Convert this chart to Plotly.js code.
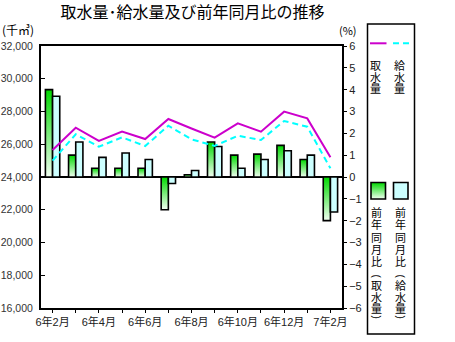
<!DOCTYPE html>
<html>
<head>
<meta charset="utf-8">
<script src="https://cdn.plot.ly/plotly-3.0.1.min.js"></script>
<style>
html,body{margin:0;padding:0;background:#fff;}
#chart{width:455px;height:342px;}
</style>
</head>
<body>
<div id="chart"></div>
<script>
// ---- data ----
const months = ['6年2月','6年3月','6年4月','6年5月','6年6月','6年7月','6年8月','6年9月','6年10月','6年11月','6年12月','7年1月','7年2月'];
const tickLabels = ['6年2月','','6年4月','','6年6月','','6年8月','','6年10月','','6年12月','','7年2月'];
const intake = [25650, 27010, 26200, 26770, 26320, 27540, 26960, 26400, 27280, 26770, 27990, 27580, 25200];
const supply = [25000, 26610, 25850, 26420, 25890, 27130, 26300, 25900, 26520, 26260, 27420, 27070, 24530];
const intakeYoY = [4.0, 1.0, 0.4, 0.4, 0.4, -1.5, 0.1, 1.6, 1.0, 1.05, 1.45, 0.8, -2.0];
const supplyYoY = [3.7, 1.6, 0.9, 1.1, 0.8, -0.3, 0.3, 1.4, 0.4, 0.8, 1.2, 1.0, -1.6];
const leftTicks = [16000, 18000, 20000, 22000, 24000, 26000, 28000, 30000, 32000];
const rightTicks = [-6,-5,-4,-3,-2,-1,0,1,2,3,4,5,6];
const legendNames = ['取水量', '給水量', '前年同月比（取水量）', '前年同月比（給水量）'];

const GREEN_KEY = 'rgb(0, 216, 0)';
const CYAN = '#ccffff';
const MAGENTA = '#cc00cc';
const LINECYAN = '#00ffff';
const FONT = 'Liberation Sans, "Noto Sans CJK JP", sans-serif';
const CJK = '"Noto Sans CJK JP", sans-serif';

// plot area pixel frame (for legend placement)
const L = 41, R = 342, T = 46, B = 308;
const px = x => (x - L) / (R - L);
const py = y => (B - y) / (B - T);

const traces = [
  {type:'bar', x: months, y: intakeYoY, yaxis:'y', name:legendNames[2],
   marker:{color: GREEN_KEY, line:{color:'#000', width:1.6}}, hoverinfo:'skip'},
  {type:'bar', x: months, y: supplyYoY, yaxis:'y', name:legendNames[3],
   marker:{color: CYAN, line:{color:'#000', width:1.6}}, hoverinfo:'skip'},
  {type:'scatter', mode:'lines', x: months, y: intake, yaxis:'y2', name:legendNames[0],
   line:{color: MAGENTA, width:2}, hoverinfo:'skip'},
  {type:'scatter', mode:'lines', x: months, y: supply, yaxis:'y2', name:legendNames[1],
   line:{color: LINECYAN, width:2, dash:'6px,4px'}, hoverinfo:'skip'}
];

const shapes = [
  {type:'rect', xref:'paper', yref:'paper', x0:px(367.5), x1:px(414.5), y0:py(334), y1:py(24),
   line:{color:'#000', width:1.5}, fillcolor:'rgba(0,0,0,0)'},
  {type:'line', xref:'paper', yref:'paper', x0:px(370), x1:px(386.5), y0:py(43.3), y1:py(43.3),
   line:{color:MAGENTA, width:2}},
  {type:'line', xref:'paper', yref:'paper', x0:px(393), x1:px(409.5), y0:py(43.3), y1:py(43.3),
   line:{color:LINECYAN, width:2, dash:'6px,4px'}},
  {type:'rect', xref:'paper', yref:'paper', x0:px(371), x1:px(385.5), y0:py(199), y1:py(182.5),
   line:{color:'#000', width:1.6}, fillcolor:GREEN_KEY},
  {type:'rect', xref:'paper', yref:'paper', x0:px(393.5), x1:px(408), y0:py(199), y1:py(182.5),
   line:{color:'#000', width:1.6}, fillcolor:CYAN}
];

const annotations = [
  {text:'(千㎥)', xref:'paper', yref:'paper', x:px(0), y:py(30), xanchor:'left', yanchor:'middle',
   showarrow:false, font:{family:CJK, size:12, color:'#000'}},
  {text:'(%)', xref:'paper', yref:'paper', x:px(348), y:py(30), xanchor:'center', yanchor:'middle',
   showarrow:false, font:{family:CJK, size:11, color:'#000'}}
];
// vertical legend texts: multi-line annotations; line offsets (px) tightened after render
const vcols = [];
function vseg(str, xc, firstC, offs){
  vcols.push({str, offs});
  annotations.push({text:Array.from(str).join('<br>'), xref:'paper', yref:'paper',
    x:px(xc), y:py(firstC - 9), xanchor:'center', yanchor:'top', align:'center',
    showarrow:false, font:{family:CJK, size:11, color:'#000'}});
}
function vparen(ch, xc, yc){
  annotations.push({text:ch, xref:'paper', yref:'paper', x:px(xc), y:py(yc),
    xanchor:'center', yanchor:'middle', textangle:90, showarrow:false,
    font:{family:FONT, size:10, color:'#000'}});
}
[[legendNames[0], 375.5], [legendNames[1], 399.5]].forEach(([s, xc]) => vseg(s, xc, 63.5, [0, 11.5, 23]));
[[legendNames[2], 376], [legendNames[3], 400]].forEach(([s, xc]) => {
  const head = s.slice(0, 5), body = s.slice(6, 9);
  vseg(head, xc, 211, [0, 12.3, 24.6, 36.9, 49.2]);
  vparen('(', xc, 276.5);
  vseg(body, xc, 284, [0, 12, 23.5]);
  vparen(')', xc, 316.5);
});

const layout = {
  width:455, height:342,
  margin:{l:L, r:455-R, t:T, b:342-B, pad:0},
  paper_bgcolor:'#fff', plot_bgcolor:'#fff',
  showlegend:false,
  barmode:'group', bargap:0.38, bargroupgap:0,
  title:{text:'取水量･給水量及び前年同月比の推移', font:{family:CJK, size:16, color:'#000'},
    xref:'container', yref:'container', x:192.5/455, xanchor:'center', y:1-12/342, yanchor:'middle'},
  xaxis:{type:'category', categoryorder:'array', categoryarray:months,
    range:[-0.5, 12.5], tickmode:'array', tickvals:months, ticktext:tickLabels,
    ticks:'outside', ticklen:3, tickwidth:1, tickcolor:'#000',
    showline:true, linecolor:'#000', linewidth:2, mirror:true,
    showgrid:false, zeroline:false, tickangle:0,
    tickfont:{family:FONT, size:11, color:'#222'}, fixedrange:true},
  yaxis:{side:'right', range:[-6,6], tickmode:'array', tickvals:rightTicks,
    ticks:'outside', ticklen:3, tickwidth:1, tickcolor:'#000',
    showline:true, linecolor:'#000', linewidth:2, showgrid:false,
    zeroline:true, zerolinecolor:'#000', zerolinewidth:2,
    tickfont:{family:FONT, size:11, color:'#222'}, fixedrange:true},
  yaxis2:{overlaying:'y', side:'left', range:[16000,32000], tickmode:'array', tickvals:leftTicks,
    tickformat:',d', ticks:'inside', ticklen:4, tickwidth:1, tickcolor:'#000',
    showline:true, linecolor:'#000', linewidth:2, showgrid:false, zeroline:false,
    ticklabelstandoff:4,
    tickfont:{family:FONT, size:10.5, color:'#333'}, fixedrange:true},
  shapes: shapes,
  annotations: annotations
};

Plotly.newPlot('chart', traces, layout, {displayModeBar:false, staticPlot:true}).then(gd => {
  const svg = gd.querySelector('svg.main-svg');
  const NS = 'http://www.w3.org/2000/svg';
  const defs = document.createElementNS(NS, 'defs');
  const grad = document.createElementNS(NS, 'linearGradient');
  grad.setAttribute('id', 'greenGrad');
  grad.setAttribute('x1', '0'); grad.setAttribute('y1', '0');
  grad.setAttribute('x2', '0'); grad.setAttribute('y2', '1');
  [['0%', '#00d800'], ['100%', '#f2fff2']].forEach(([o, c]) => {
    const s = document.createElementNS(NS, 'stop');
    s.setAttribute('offset', o); s.setAttribute('stop-color', c);
    grad.appendChild(s);
  });
  defs.appendChild(grad);
  svg.insertBefore(defs, svg.firstChild);
  gd.querySelectorAll('path').forEach(p => {
    if (p.style.fill === GREEN_KEY) p.style.fill = 'url(#greenGrad)';
  });
  gd.querySelectorAll('text.annotation-text').forEach(t => {
    const col = vcols.find(c => t.textContent === c.str);
    if (!col) return;
    t.querySelectorAll('tspan.line').forEach((ts, i) => ts.setAttribute('dy', col.offs[i]));
  });
});
</script>
</body>
</html>
